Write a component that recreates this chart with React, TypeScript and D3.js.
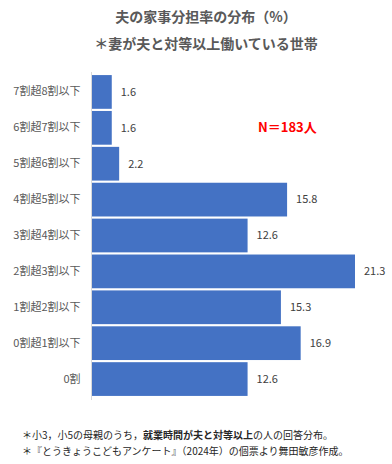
import * as d3 from "d3";
import React, { useRef, useEffect } from "react";

const width = 392;
const height = 464;
const margin = { top: 74, right: 37, bottom: 67, left: 92 };
const barColor = "#4472c4";
const font = "'Noto Sans CJK JP', 'Noto Sans', sans-serif";

const categories = [
  "7割超8割以下",
  "6割超7割以下",
  "5割超6割以下",
  "4割超5割以下",
  "3割超4割以下",
  "2割超3割以下",
  "1割超2割以下",
  "0割超1割以下",
  "0割",
];
const values = [1.6, 1.6, 2.2, 15.8, 12.6, 21.3, 15.3, 16.9, 12.6];
const titleLines = ["夫の家事分担率の分布（%）", "＊妻が夫と対等以上働いている世帯"];
const nLabel = "N＝183人";

export default function App() {
  const ref = useRef<SVGSVGElement>(null);

  useEffect(() => {
    if (!ref.current) return;
    const svg = d3.select(ref.current);
    svg.selectAll("*").remove();

    const y = d3.scaleBand()
      .domain(categories)
      .range([margin.top, height - margin.bottom])
      .paddingInner(0.06)
      .paddingOuter(0.03);

    const x = d3.scaleLinear()
      .domain([0, d3.max(values)!])
      .range([margin.left, width - margin.right]);

    const data = categories.map((c, i) => ({ c, v: values[i] }));

    svg.append("rect").attr("width", width).attr("height", height).attr("fill", "#fff");

    // titles
    svg.append("g")
      .selectAll("text")
      .data(titleLines)
      .join("text")
      .attr("x", 206)
      .attr("y", (d, i) => 22 + i * 27)
      .attr("text-anchor", "middle")
      .attr("font-family", font)
      .attr("font-size", 14)
      .attr("font-weight", "bold")
      .attr("fill", "#595959")
      .text(d => d);

    // bars
    svg.append("g")
      .selectAll("rect")
      .data(data)
      .join("rect")
      .attr("x", x(0))
      .attr("y", d => y(d.c)!)
      .attr("width", d => x(d.v) - x(0))
      .attr("height", y.bandwidth())
      .attr("fill", barColor);

    // value labels
    svg.append("g")
      .selectAll("text")
      .data(data)
      .join("text")
      .attr("x", d => x(d.v) + 9)
      .attr("y", d => y(d.c)! + y.bandwidth() / 2)
      .attr("dy", "0.35em")
      .attr("font-family", font)
      .attr("font-size", 11)
      .attr("fill", "#404040")
      .text(d => d.v.toFixed(1));

    // y axis
    const yAxis = svg.append("g")
      .attr("transform", `translate(${margin.left - 0.5},0)`)
      .call(d3.axisLeft(y).tickSize(0).tickPadding(11));
    yAxis.select(".domain")
      .attr("stroke", "#d9d9d9")
      .attr("d", `M0,${margin.top - 2}V${height - margin.bottom + 3}`);
    yAxis.selectAll("text")
      .attr("font-family", font)
      .attr("font-size", 11)
      .attr("fill", "#595959");

    // N label
    svg.append("text")
      .attr("x", 258)
      .attr("y", 132)
      .attr("font-family", font)
      .attr("font-size", 13)
      .attr("font-weight", "bold")
      .attr("fill", "#ff0000")
      .text(nLabel);

    // footnotes
    const notes = svg.append("g")
      .attr("font-family", font)
      .attr("font-size", 10)
      .attr("fill", "#262626");
    const n1 = notes.append("text").attr("x", 22).attr("y", 439);
    n1.append("tspan").text("＊小3，小5の母親のうち，");
    n1.append("tspan").attr("font-weight", "bold").text("就業時間が夫と対等以上");
    n1.append("tspan").text("の人の回答分布。");
    notes.append("text")
      .attr("x", 22)
      .attr("y", 455)
      .text("＊『とうきょうこどもアンケート』（2024年）の個票より舞田敏彦作成。");
  }, []);

  return (
    <svg
      ref={ref}
      width={width}
      height={height}
      style={{ display: "block", position: "absolute", left: 0, top: 0 }}
    />
  );
}
